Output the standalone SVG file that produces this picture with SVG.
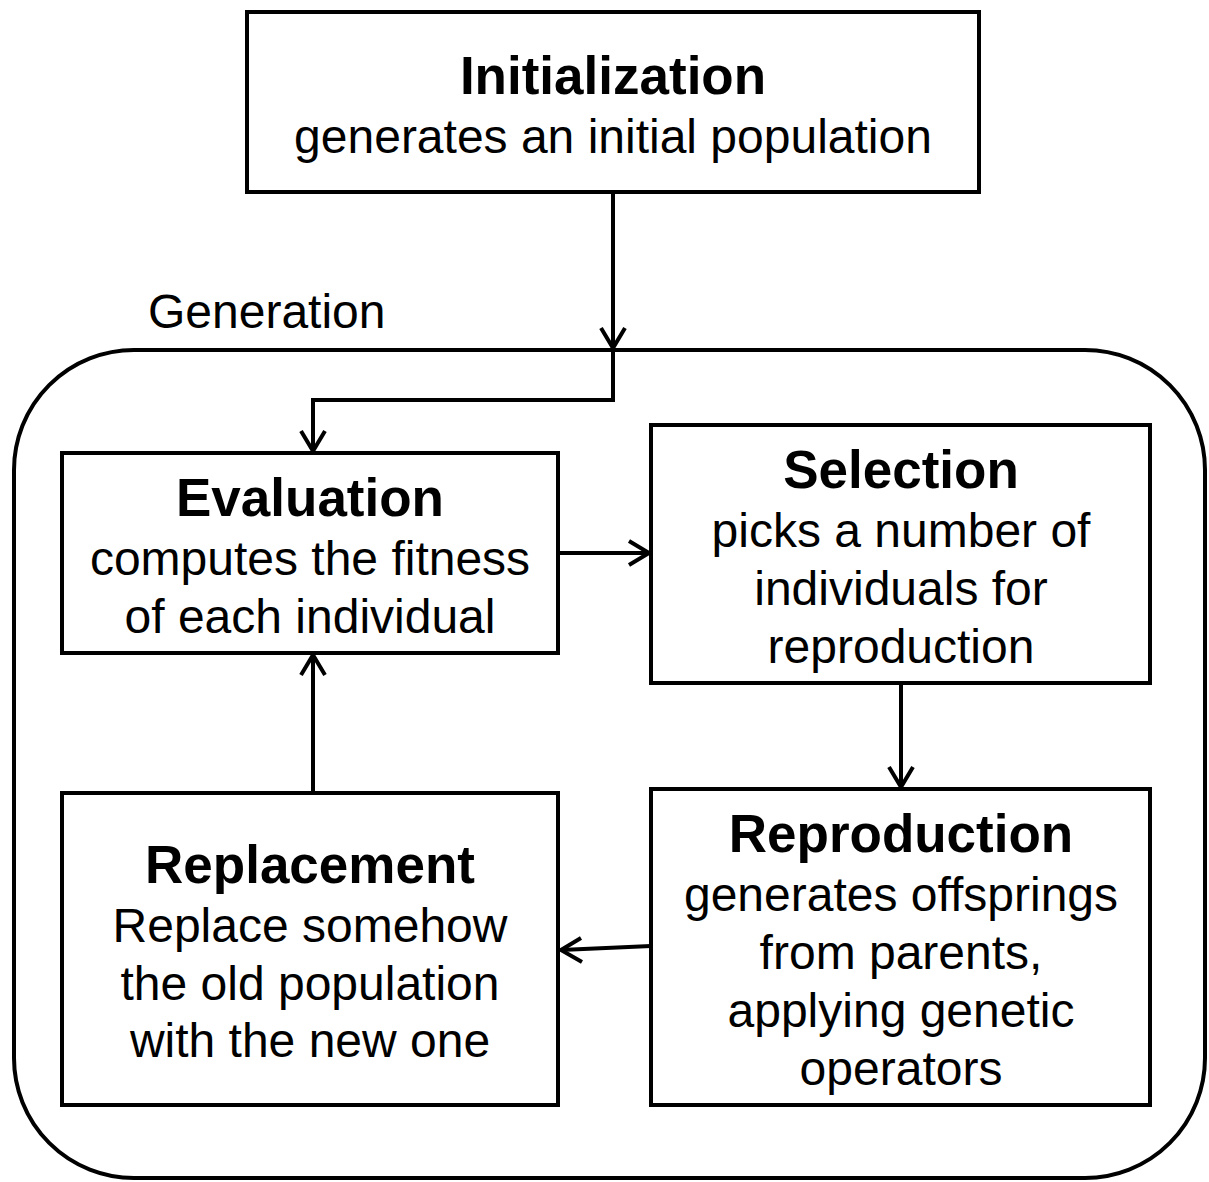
<svg xmlns="http://www.w3.org/2000/svg" width="1209" height="1182" viewBox="0 0 1209 1182">
<style>
.box{fill:#fff;stroke:#000;stroke-width:4}
.t{font-family:"Liberation Sans",Arial,sans-serif;font-size:48px;fill:#000;text-anchor:middle}
.b{font-weight:bold;font-size:53px}
.c{fill:none;stroke:#000;stroke-width:4}
</style>
<rect width="1209" height="1182" fill="#fff"/>
<g id="generation">
<rect x="14" y="350" width="1191" height="828" rx="120" ry="120" fill="none" stroke="#000" stroke-width="4"/>
<text class="t" x="148" y="328" style="text-anchor:start">Generation</text>
</g>
<g id="initialization">
<rect class="box" x="247" y="12" width="732" height="180"/>
<text class="t b" x="613" y="94">Initialization</text>
<text class="t" x="613" y="153">generates an initial population</text>
</g>
<g id="evaluation">
<rect class="box" x="62" y="453" width="496" height="200"/>
<text class="t b" x="310" y="516">Evaluation</text>
<text class="t" x="310" y="575">computes the fitness</text>
<text class="t" x="310" y="633">of each individual</text>
</g>
<g id="selection">
<rect class="box" x="651" y="425" width="499" height="258"/>
<text class="t b" x="901" y="488">Selection</text>
<text class="t" x="901" y="547">picks a number of</text>
<text class="t" x="901" y="605">individuals for</text>
<text class="t" x="901" y="663">reproduction</text>
</g>
<g id="reproduction">
<rect class="box" x="651" y="789" width="499" height="316"/>
<text class="t b" x="901" y="852">Reproduction</text>
<text class="t" x="901" y="911">generates offsprings</text>
<text class="t" x="901" y="969">from parents,</text>
<text class="t" x="901" y="1027">applying genetic</text>
<text class="t" x="901" y="1085">operators</text>
</g>
<g id="replacement">
<rect class="box" x="62" y="793" width="496" height="312"/>
<text class="t b" x="310" y="883">Replacement</text>
<text class="t" x="310" y="942">Replace somehow</text>
<text class="t" x="310" y="1000">the old population</text>
<text class="t" x="310" y="1057">with the new one</text>
</g>
<g id="connectors">
<path class="c" d="M613,192 V348"/>
<path class="c" d="M601,328 L613,348 L625,328"/>
<path class="c" d="M613,350 V400 H313 V451"/>
<path class="c" d="M301,431 L313,451 L325,431"/>
<path class="c" d="M558,553 H649"/>
<path class="c" d="M629,541 L649,553 L629,565"/>
<path class="c" d="M901,683 V787"/>
<path class="c" d="M889,767 L901,787 L913,767"/>
<path class="c" d="M651,946 L561,950"/>
<path class="c" d="M581,938 L561,950 L582,962"/>
<path class="c" d="M313,793 V655"/>
<path class="c" d="M301,675 L313,655 L325,675"/>
</g>
</svg>
